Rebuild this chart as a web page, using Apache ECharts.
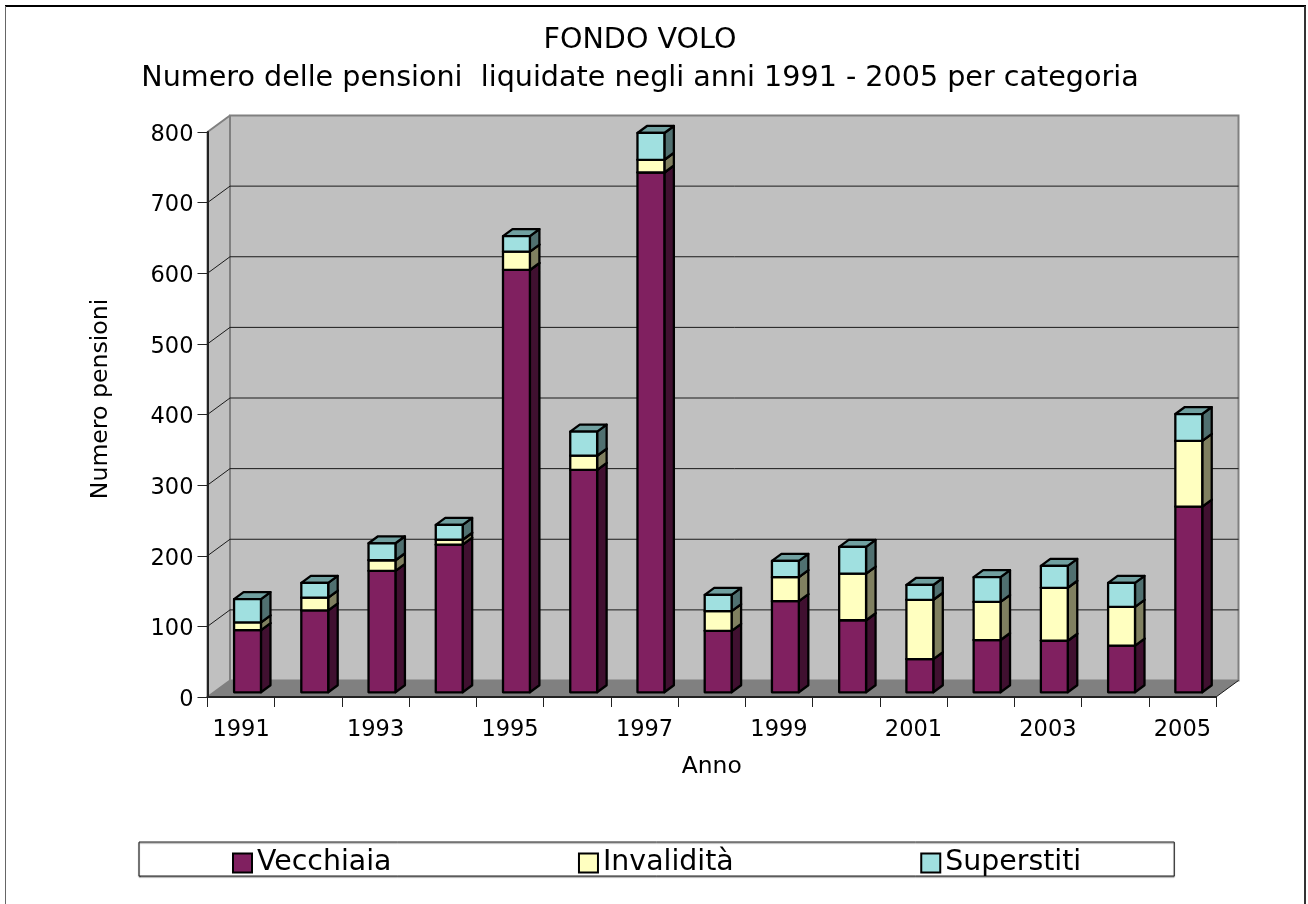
<!DOCTYPE html>
<html><head><meta charset="utf-8">
<style>html,body{margin:0;padding:0;background:#fff}#c{width:1308px;height:904px}</style>
<script src="https://cdn.jsdelivr.net/npm/echarts@6/dist/echarts.min.js"></script>
</head><body><div id="c"></div>
<script>
const years = ['1991','1992','1993','1994','1995','1996','1997','1998','1999','2000','2001','2002','2003','2004','2005'];
const vecchiaia = [88,116,172,209,598,315,736,87,129,102,47,74,73,66,263];
const invalidita = [11,18,15,7,26,20,18,28,34,66,84,54,75,55,93];
const superstiti = [33,21,24,21,22,34,38,23,23,38,21,35,31,34,38];
const yTicks = [0,100,200,300,400,500,600,700,800];
const stack = [vecchiaia, invalidita, superstiti];
const names = ['Vecchiaia','Invalidità','Superstiti'];
const faces = [
  {front:'#802060', side:'#401030', top:'#5a1643'},
  {front:'#ffffc0', side:'#808060', top:'#b3b386'},
  {front:'#a0e0e0', side:'#507070', top:'#70a0a0'}
];
const FONT = '"DejaVu Sans", Verdana, sans-serif';
const WALL = [22.5,-16.5], BAR = {w:0.4, dx:6.4, dy:-4.7, ox:9.5, oy:-7};

function poly(pts, fill, stroke, lw, join){
  return {type:'polygon', shape:{points:pts}, style:{fill:fill, stroke:stroke||null, lineWidth:lw||0, lineJoin:join||'miter'}};
}
function renderWalls(params, api){
  const g = params.coordSys, x0=g.x, x1=g.x+g.width, yT=g.y, yB=g.y+g.height;
  const [ox,oy]=WALL;
  const ch=[
    poly([[x0,yB],[x0+ox,yB+oy],[x1+ox,yB+oy],[x1,yB]],'#808080'),
    poly([[x0,yT],[x0+ox,yT+oy],[x0+ox,yB+oy],[x0,yB]],'#c0c0c0','#808080',2,'bevel'),
    poly([[x0+ox,yT+oy],[x1+ox,yT+oy],[x1+ox,yB+oy],[x0+ox,yB+oy]],'#c0c0c0','#808080',2)
  ];
  yTicks.forEach(t=>{
    if(t===0||t===800) return;
    const y=api.coord([0,t])[1];
    ch.push({type:'polyline',shape:{points:[[x0,y],[x0+ox,y+oy],[x1+ox,y+oy]]},style:{fill:null,stroke:'#1a1a1a',lineWidth:1}});
  });
  ch.push({type:'polyline',shape:{points:[[x1,yB],[x1+ox,yB+oy]]},style:{fill:null,stroke:'#1a1a1a',lineWidth:1}});
  return {type:'group',children:ch};
}
function renderBar(si){
  return function(params, api){
    const i=api.value(0), val=api.value(1);
    let base=0; for(let k=0;k<si;k++) base+=stack[k][params.dataIndex];
    const band=api.size([1,0])[0], bw=band*BAR.w;
    const cx=api.coord([i,0])[0]+BAR.dx;
    const yb=api.coord([i,base])[1]+BAR.dy, yt=api.coord([i,base+val])[1]+BAR.dy;
    const l=cx-bw/2, r=cx+bw/2, f=faces[si], ox=BAR.ox, oy=BAR.oy, s='#000', lw=2.3;
    return {type:'group',children:[
      poly([[r,yb],[r+ox,yb+oy],[r+ox,yt+oy],[r,yt]],f.side,s,lw,'round'),
      poly([[l,yt],[l+ox,yt+oy],[r+ox,yt+oy],[r,yt]],f.top,s,lw,'round'),
      poly([[l,yb],[l,yt],[r,yt],[r,yb]],f.front,s,lw,'round')
    ]};
  };
}
const chart=echarts.init(document.getElementById('c'),null,{renderer:'canvas'});
chart.setOption({
  animation:false,
  backgroundColor:'#fff',
  graphic:[
    {type:'line',z:-10,shape:{x1:5,y1:6,x2:1306,y2:6},style:{stroke:'#000',lineWidth:2}},
    {type:'line',z:-10,shape:{x1:5.5,y1:6,x2:5.5,y2:904},style:{stroke:'#666',lineWidth:1}},
    {type:'line',z:-10,shape:{x1:1305,y1:6,x2:1305,y2:904},style:{stroke:'#333',lineWidth:2}}
  ],
  title:{text:'FONDO VOLO\nNumero delle pensioni  liquidate negli anni 1991 - 2005 per categoria',
    left:635,top:17,textAlign:'center',
    textStyle:{fontFamily:FONT,fontSize:28.6,fontWeight:'normal',color:'#000',lineHeight:38,align:'center'}},
  grid:{left:207.5,right:92,top:132,bottom:207},
  xAxis:{type:'category',data:years,name:'Anno',nameLocation:'middle',nameGap:58,z:5,
    nameTextStyle:{fontFamily:FONT,fontSize:23.4,color:'#000'},
    axisLine:{lineStyle:{color:'#222',width:2}},
    axisTick:{show:true,alignWithLabel:false,interval:0,length:10,lineStyle:{color:'#222',width:1}},
    axisLabel:{interval:1,fontFamily:FONT,fontSize:22.5,color:'#000',margin:22},
    splitLine:{show:false}},
  yAxis:{type:'value',min:0,max:800,interval:100,name:'Numero pensioni',nameLocation:'middle',nameGap:95,z:5,
    nameTextStyle:{fontFamily:FONT,fontSize:23.6,color:'#000',padding:[0,0,0,31]},
    axisLine:{show:true,lineStyle:{color:'#222',width:2}},
    axisTick:{show:true,length:10,lineStyle:{color:'#222',width:1}},
    axisLabel:{fontFamily:FONT,fontSize:22.5,color:'#000',margin:14,verticalAlign:'top',lineHeight:6},
    splitLine:{show:false}},
  legend:{data:names,left:139,top:842,orient:'horizontal',icon:'rect',itemWidth:19,itemHeight:19,itemGap:186.5,
    padding:[7,93,-1,93],borderColor:'#222',borderWidth:1,backgroundColor:'#fff',
    shadowColor:'rgba(0,0,0,0.5)',shadowBlur:1,shadowOffsetX:0,shadowOffsetY:1,
    textStyle:{fontFamily:FONT,fontSize:28.4,lineHeight:20,padding:[6,0,0,0],color:'#000'}},
  series:[
    {type:'custom',name:'Pareti',coordinateSystem:'cartesian2d',z:1,silent:true,data:[[0,0]],renderItem:renderWalls,clip:false},
    ...stack.map((arr,si)=>({type:'custom',name:names[si],coordinateSystem:'cartesian2d',z:2+si,
      itemStyle:{color:faces[si].front,borderColor:'#000',borderWidth:2},
      encode:{x:0,y:1},clip:false,
      data:arr.map((v,i)=>[i,v]),renderItem:renderBar(si)}))
  ]
});
</script></body></html>
